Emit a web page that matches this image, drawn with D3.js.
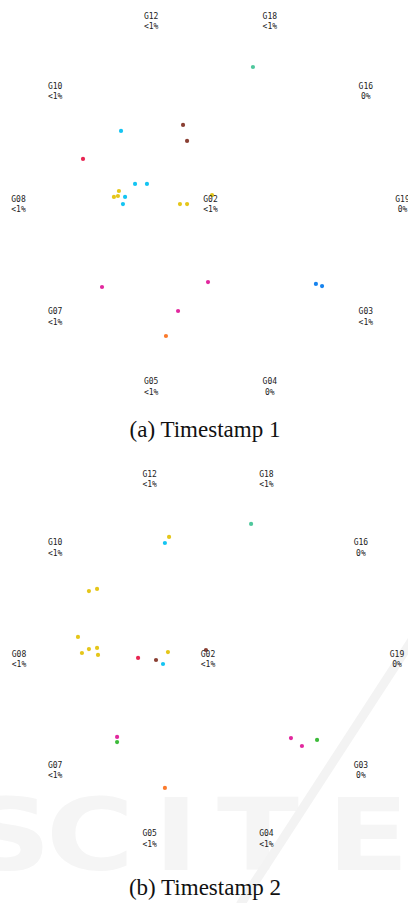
<!DOCTYPE html>
<html>
<head>
<script src="https://d3js.org/d3.v7.min.js" charset="utf-8"></script>
<style>
    body { margin: 0; background: #fff; }
    svg { display: block; }
</style>
</head>
<body>
<script>
    // anchors around the circle, angle in degrees (G02 sits in the middle)
    var anchorNames = ["G19", "G16", "G18", "G12", "G10", "G08", "G07", "G05", "G04", "G03", "G02"];
    var anchorAngles = [0, 36, 72, 108, 144, 180, 216, 252, 288, 324, null];

    var pct1 = ["0%", "0%", "<1%", "<1%", "<1%", "<1%", "<1%", "<1%", "0%", "<1%", "<1%"];
    var pct2 = ["0%", "0%", "<1%", "<1%", "<1%", "<1%", "<1%", "<1%", "<1%", "0%", "<1%"];

    var groups = ["yellow", "cyan", "magenta", "red", "brown", "blue", "orange", "teal", "green"];
    var groupColors = ["#e5c619", "#14c4f2", "#e2279e", "#e82552", "#8a3f33", "#1683ee", "#fb7a2c", "#4ec79c", "#3dbb3a"];

    // points: [x, y, group] in circle units (-1..1)
    var points1 = [
        [0.221, 0.711, "teal"],
        [-0.466, 0.378, "cyan"],
        [-0.143, 0.409, "brown"],
        [-0.122, 0.326, "brown"],
        [-0.664, 0.232, "red"],
        [-0.393, 0.102, "cyan"],
        [-0.331, 0.102, "cyan"],
        [-0.477, 0.065, "yellow"],
        [-0.503, 0.034, "yellow"],
        [-0.482, 0.039, "yellow"],
        [-0.445, 0.034, "cyan"],
        [-0.456, -0.003, "cyan"],
        [-0.159, -0.003, "yellow"],
        [-0.122, -0.003, "yellow"],
        [0.008, 0.044, "yellow"],
        [-0.565, -0.435, "magenta"],
        [-0.013, -0.409, "magenta"],
        [0.549, -0.419, "blue"],
        [0.581, -0.430, "blue"],
        [-0.169, -0.560, "magenta"],
        [-0.232, -0.690, "orange"]
    ];

    var points2 = [
        [0.228, 0.712, "teal"],
        [-0.206, 0.643, "yellow"],
        [-0.228, 0.611, "cyan"],
        [-0.630, 0.357, "yellow"],
        [-0.587, 0.368, "yellow"],
        [-0.688, 0.114, "yellow"],
        [-0.667, 0.029, "yellow"],
        [-0.630, 0.050, "yellow"],
        [-0.587, 0.056, "yellow"],
        [-0.582, 0.019, "yellow"],
        [-0.370, 0.003, "red"],
        [-0.275, -0.008, "brown"],
        [-0.238, -0.029, "cyan"],
        [-0.212, 0.034, "yellow"],
        [-0.011, 0.045, "brown"],
        [-0.481, -0.415, "magenta"],
        [-0.481, -0.442, "green"],
        [0.439, -0.421, "magenta"],
        [0.497, -0.463, "magenta"],
        [0.577, -0.431, "green"],
        [-0.228, -0.685, "orange"]
    ];

    var captions = ["(a) Timestamp 1", "(b) Timestamp 2"];

    var wid = 408, h = 903;

    var svg = d3.select("body").append("svg")
        .attr("width", wid)
        .attr("height", h);

    var color = d3.scaleOrdinal().domain(groups).range(groupColors);

    // very faint publisher watermark behind panel b
    var wm = svg.append("g").attr("fill", "#f5f5f5");
    var wmX = [8, 90, 176, 258, 368];
    wm.selectAll("text")
        .data("SCITE".split(""))
        .enter()
        .append("text")
        .attr("x", function(d, i) { return wmX[i]; })
        .attr("y", 870)
        .attr("text-anchor", "middle")
        .attr("font-family", "'DejaVu Sans', sans-serif")
        .attr("font-weight", "bold")
        .attr("font-size", 100)
        .attr("transform", function(d, i) { return "translate(" + wmX[i] + ",0) scale(1.2,1) translate(" + (-wmX[i]) + ",0)"; })
        .text(function(d) { return d; });
    wm.append("line")
        .attr("x1", 412).attr("y1", 640)
        .attr("x2", 240).attr("y2", 905)
        .attr("stroke", "#f3f3f3")
        .attr("stroke-width", 9);

    function drawPanel(cx, cy, R, pts, pcts, caption, capY) {
        var x = d3.scaleLinear().domain([-1, 1]).range([cx - R, cx + R]);
        var y = d3.scaleLinear().domain([-1, 1]).range([cy + R, cy - R]);
        var g = svg.append("g");

        g.selectAll("circle")
            .data(pts)
            .enter()
            .append("circle")
            .attr("cx", function(d) { return x(d[0]); })
            .attr("cy", function(d) { return y(d[1]); })
            .attr("r", 2.1)
            .attr("fill", function(d) { return color(d[2]); });

        var lab = g.selectAll("text.anchor")
            .data(anchorNames)
            .enter()
            .append("text")
            .attr("class", "anchor")
            .attr("text-anchor", "middle")
            .attr("font-family", "'DejaVu Sans Mono', monospace")
            .attr("font-size", 8)
            .attr("fill", "#222")
            .attr("transform", function(d, i) {
                var a = anchorAngles[i];
                var px = a === null ? x(0) : x(Math.cos(a * Math.PI / 180));
                var py = a === null ? y(0) : y(Math.sin(a * Math.PI / 180));
                return "translate(" + px + "," + py + ")";
            });
        lab.append("tspan").attr("x", 0).attr("y", -2).text(function(d) { return d; });
        lab.append("tspan").attr("x", 0).attr("y", 8.5).text(function(d, i) { return pcts[i]; });

        svg.append("text")
            .attr("x", 205).attr("y", capY)
            .attr("text-anchor", "middle")
            .attr("font-family", "'Liberation Serif', 'Times New Roman', serif")
            .attr("font-size", 23)
            .attr("fill", "#111")
            .text(caption);
    }

    drawPanel(210.5, 203.5, 192, points1, pct1, captions[0], 437);
    drawPanel(208, 658.5, 189, points2, pct2, captions[1], 895);
</script>
</body>
</html>
